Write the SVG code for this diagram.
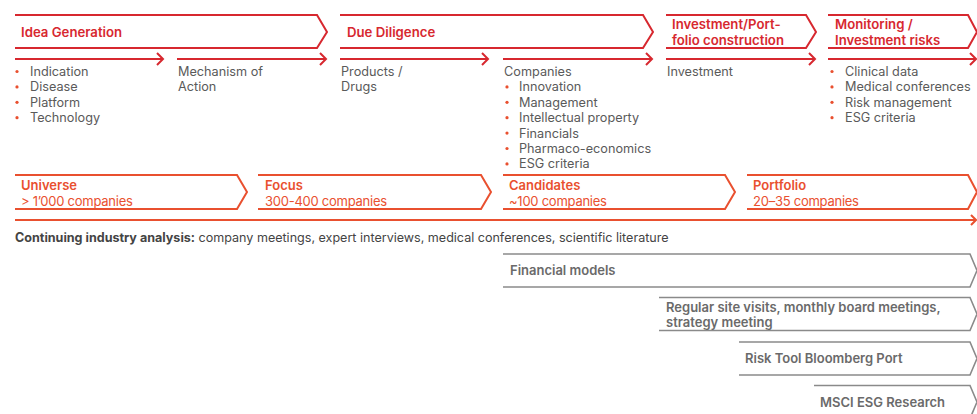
<svg xmlns="http://www.w3.org/2000/svg" width="977" height="414" viewBox="0 0 977 414">
<defs>
<style>
text{font-family:Inter,"Liberation Sans",sans-serif;font-size:13px}
.phase{fill:none;stroke:#d7282f;stroke-width:2}
.ph{fill:#d7282f;font-weight:600;font-size:13.2px}
.stage{fill:none;stroke:#e9502f;stroke-width:2}
.st{fill:#e9502f;font-weight:600}
.sv{fill:#e9502f;letter-spacing:-0.25px}
.body{fill:#5a5a5a;font-size:12.7px}
.dot{fill:#e9502f}
.tool{fill:none;stroke:#8a8a8a;stroke-width:1.6}
.tt{fill:#6a6a6a;font-weight:600}
.arr{fill:none;stroke:#d7282f;stroke-width:2}
.arr2{fill:none;stroke:#e9502f;stroke-width:2}
.ind{fill:#444;font-size:12.55px}
</style>
</defs>
<rect width="977" height="414" fill="#fff"/>

<g id="connectors">
<path class="arr" d="M15,59H163M157,53L163,59L157,65"/>
<path class="arr" d="M177,59H326M320,53L326,59L320,65"/>
<path class="arr" d="M340,59H488M482,53L488,59L482,65"/>
<path class="arr" d="M503,59H652M646,53L652,59L646,65"/>
<path class="arr" d="M666,59H815M809,53L815,59L809,65"/>
<path class="arr" d="M828,59H976M970,53L976,59L970,65"/>
<path class="arr2" d="M15,220H976M971,215L976,220L971,225"/>
</g>

<g id="idea-generation">
<path class="phase" d="M15,15H317L327,32L317,48H15"/>
<text class="ph" x="21" y="36.5">Idea Generation</text>
</g>
<g id="due-diligence">
<path class="phase" d="M340,15H643L653,32L643,48H340"/>
<text class="ph" x="347" y="36.5">Due Diligence</text>
</g>
<g id="investment">
<path class="phase" d="M666,15H806L816,32L806,48H666"/>
<text class="ph" x="672" y="29">Investment/Port-</text>
<text class="ph" x="672" y="44.5">folio construction</text>
</g>
<g id="monitoring">
<path class="phase" d="M828,15H968L977,32L968,48H828"/>
<text class="ph" x="835" y="29">Monitoring /</text>
<text class="ph" x="835" y="44.5">Investment risks</text>
</g>

<g id="idea-list">
<circle class="dot" cx="17" cy="71.5" r="1.6"/><text class="body" x="30" y="76">Indication</text>
<circle class="dot" cx="17" cy="86.9" r="1.6"/><text class="body" x="30" y="91.4">Disease</text>
<circle class="dot" cx="17" cy="102.3" r="1.6"/><text class="body" x="30" y="106.8">Platform</text>
<circle class="dot" cx="17" cy="117.7" r="1.6"/><text class="body" x="30" y="122.2">Technology</text>
</g>
<g id="mechanism">
<text class="body" x="178" y="76">Mechanism of</text>
<text class="body" x="178" y="91.4">Action</text>
</g>
<g id="products">
<text class="body" x="341" y="76">Products /</text>
<text class="body" x="341" y="91.4">Drugs</text>
</g>
<g id="companies">
<text class="body" x="504" y="76">Companies</text>
<circle class="dot" cx="507" cy="86.9" r="1.6"/><text class="body" x="519" y="91.4">Innovation</text>
<circle class="dot" cx="507" cy="102.3" r="1.6"/><text class="body" x="519" y="106.8">Management</text>
<circle class="dot" cx="507" cy="117.7" r="1.6"/><text class="body" x="519" y="122.2">Intellectual property</text>
<circle class="dot" cx="507" cy="133.1" r="1.6"/><text class="body" x="519" y="137.6">Financials</text>
<circle class="dot" cx="507" cy="148.5" r="1.6"/><text class="body" x="519" y="153">Pharmaco-economics</text>
<circle class="dot" cx="507" cy="163.9" r="1.6"/><text class="body" x="519" y="168.4">ESG criteria</text>
</g>
<g id="investment-text">
<text class="body" x="667" y="76">Investment</text>
</g>
<g id="monitoring-list">
<circle class="dot" cx="832" cy="71.5" r="1.6"/><text class="body" x="845" y="76">Clinical data</text>
<circle class="dot" cx="832" cy="86.9" r="1.6"/><text class="body" x="845" y="91.4">Medical conferences</text>
<circle class="dot" cx="832" cy="102.3" r="1.6"/><text class="body" x="845" y="106.8">Risk management</text>
<circle class="dot" cx="832" cy="117.7" r="1.6"/><text class="body" x="845" y="122.2">ESG criteria</text>
</g>

<g id="universe">
<path class="stage" d="M15,175H237L247,192L237,209H15"/>
<text class="st" x="21" y="190">Universe</text>
<text class="sv" x="21" y="205.5">&gt; 1’000 companies</text>
</g>
<g id="focus">
<path class="stage" d="M258,175H481L491,192L481,209H258"/>
<text class="st" x="265" y="190">Focus</text>
<text class="sv" x="265" y="205.5">300-400 companies</text>
</g>
<g id="candidates">
<path class="stage" d="M503,175H725L735,192L725,209H503"/>
<text class="st" x="509" y="190">Candidates</text>
<text class="sv" x="509" y="205.5">~100 companies</text>
</g>
<g id="portfolio">
<path class="stage" d="M747,175H968L977,192L968,209H747"/>
<text class="st" x="753" y="190">Portfolio</text>
<text class="sv" x="753" y="205.5">20–35 companies</text>
</g>

<g id="industry-analysis">
<text class="ind" x="15" y="241.5"><tspan font-weight="700">Continuing industry analysis:</tspan> company meetings, expert interviews, medical conferences, scientific literature</text>
</g>

<g id="financial-models">
<path class="tool" d="M503,254H970L977,270.5L970,287H503"/>
<text class="tt" x="510" y="275">Financial models</text>
</g>
<g id="site-visits">
<path class="tool" d="M659,297.5H970L977,314L970,330.5H659"/>
<text class="tt" x="666" y="312">Regular site visits, monthly board meetings,</text>
<text class="tt" x="666" y="327">strategy meeting</text>
</g>
<g id="risk-tool">
<path class="tool" d="M739,342H970L977,358.5L970,375H739"/>
<text class="tt" x="745" y="363">Risk Tool Bloomberg Port</text>
</g>
<g id="msci">
<path class="tool" d="M814,385.5H970L977,402L970,418.5H814"/>
<text class="tt" x="820" y="407">MSCI ESG Research</text>
</g>
</svg>
